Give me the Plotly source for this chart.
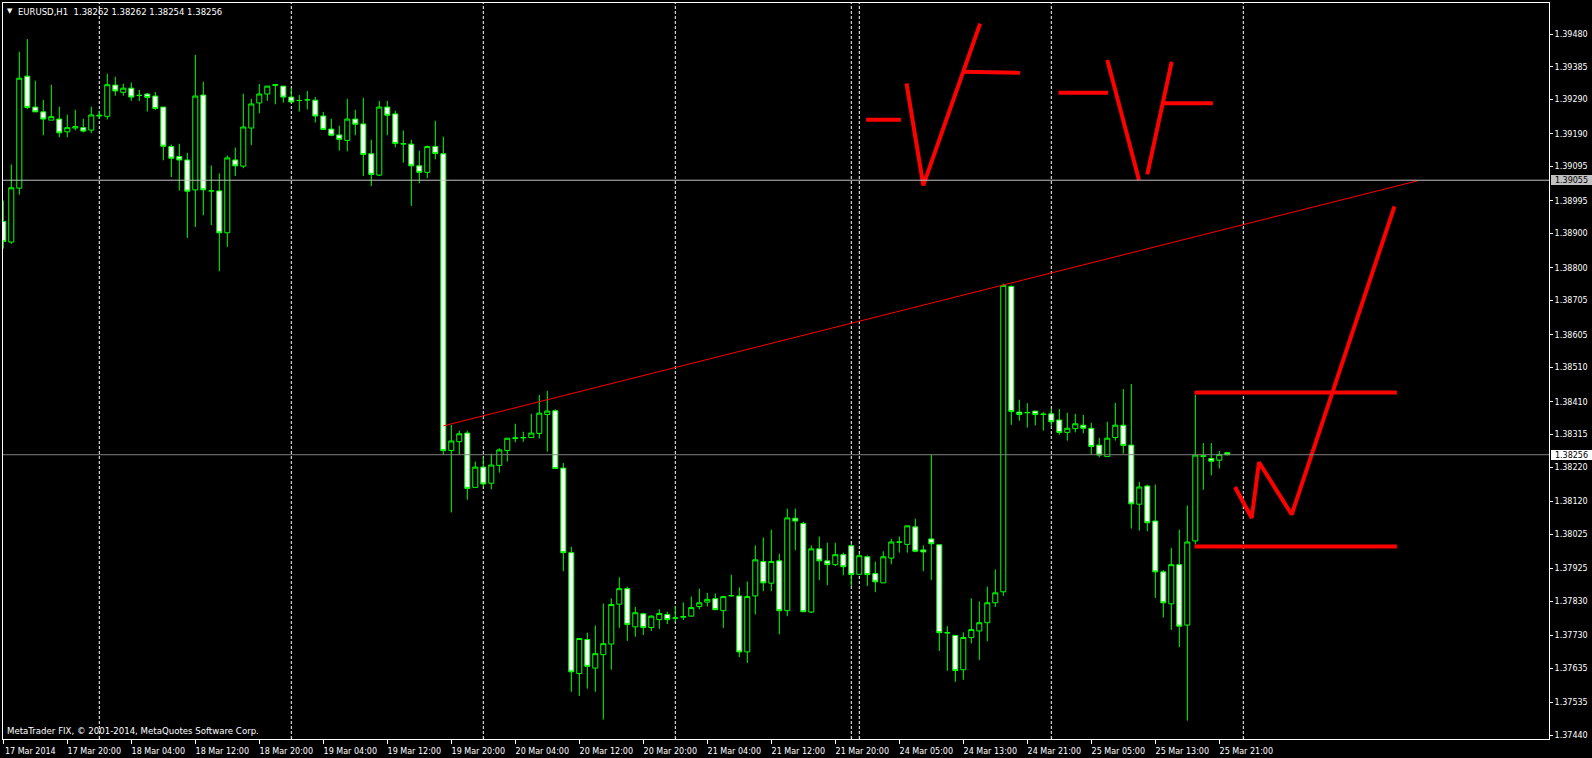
import plotly.graph_objects as go

# ---------------- data ----------------
bar_index = list(range(154))  # H1 bars, 17 Mar 2014 12:00 ... 25 Mar 2014 22:00

open_ = [1.38935, 1.38875, 1.39032, 1.39358, 1.39268, 1.39254, 1.39230, 1.39233, 1.39196, 1.39207,
         1.39208, 1.39201, 1.39242, 1.39241, 1.39332, 1.39311, 1.39323, 1.39302, 1.39306, 1.39300,
         1.39268, 1.39153, 1.39124, 1.39114, 1.39027, 1.39303, 1.39024, 1.39024, 1.38902, 1.39114,
         1.39096, 1.39207, 1.39280, 1.39306, 1.39331, 1.39329, 1.39297, 1.39287, 1.39289, 1.39288,
         1.39242, 1.39204, 1.39187, 1.39171, 1.39233, 1.39219, 1.39132, 1.39070, 1.39268, 1.39248,
         1.39161, 1.39160, 1.39097, 1.39078, 1.39153, 1.39132, 1.38268, 1.38294, 1.38319, 1.38161,
         1.38220, 1.38173, 1.38225, 1.38268, 1.38303, 1.38305, 1.38306, 1.38318, 1.38373, 1.38384,
         1.38217, 1.37971, 1.37619, 1.37718, 1.37635, 1.37674, 1.37705, 1.37821, 1.37866, 1.37755,
         1.37793, 1.37753, 1.37776, 1.37791, 1.37780, 1.37783, 1.37786, 1.37814, 1.37827, 1.37837,
         1.37802, 1.37845, 1.37845, 1.37682, 1.37845, 1.37945, 1.37882, 1.37947, 1.37802, 1.38071,
         1.38056, 1.37798, 1.37982, 1.37947, 1.37936, 1.37965, 1.37991, 1.37908, 1.37959, 1.37910,
         1.37883, 1.37955, 1.38001, 1.37995, 1.38046, 1.37979, 1.38011, 1.37994, 1.37737, 1.37730,
         1.37630, 1.37724, 1.37743, 1.37767, 1.37825, 1.37857, 1.38746, 1.38380, 1.38378, 1.38383,
         1.38373, 1.38375, 1.38357, 1.38321, 1.38332, 1.38342, 1.38333, 1.38284, 1.38251, 1.38306,
         1.38342, 1.38284, 1.38112, 1.38165, 1.38063, 1.37915, 1.37822, 1.37936, 1.37760, 1.38005,
         1.38251, 1.38245, 1.38240, 1.38262]

high = [1.38996, 1.39101, 1.39429, 1.39466, 1.39345, 1.39289, 1.39333, 1.39269, 1.39246, 1.39260,
        1.39234, 1.39269, 1.39257, 1.39365, 1.39356, 1.39336, 1.39339, 1.39318, 1.39309, 1.39312,
        1.39268, 1.39159, 1.39161, 1.39135, 1.39420, 1.39342, 1.39098, 1.39075, 1.39127, 1.39150,
        1.39307, 1.39292, 1.39335, 1.39329, 1.39335, 1.39329, 1.39323, 1.39303, 1.39315, 1.39297,
        1.39254, 1.39234, 1.39214, 1.39292, 1.39260, 1.39295, 1.39173, 1.39286, 1.39286, 1.39257,
        1.39200, 1.39173, 1.39141, 1.39156, 1.39228, 1.39182, 1.38343, 1.38326, 1.38326, 1.38236,
        1.38249, 1.38259, 1.38275, 1.38304, 1.38346, 1.38323, 1.38375, 1.38430, 1.38442, 1.38388,
        1.38232, 1.37988, 1.37721, 1.37738, 1.37759, 1.37823, 1.37838, 1.37899, 1.37872, 1.37813,
        1.37796, 1.37789, 1.37806, 1.37799, 1.37815, 1.37826, 1.37843, 1.37866, 1.37854, 1.37852,
        1.37845, 1.37907, 1.37870, 1.37887, 1.37992, 1.38015, 1.38038, 1.37968, 1.38099, 1.38099,
        1.38061, 1.37992, 1.38018, 1.38000, 1.38000, 1.37971, 1.37997, 1.37968, 1.37963, 1.37945,
        1.37975, 1.38011, 1.38018, 1.38049, 1.38070, 1.37992, 1.38256, 1.37994, 1.37757, 1.37730,
        1.37739, 1.37838, 1.37829, 1.37872, 1.37922, 1.38754, 1.38749, 1.38416, 1.38406, 1.38383,
        1.38380, 1.38390, 1.38389, 1.38378, 1.38375, 1.38372, 1.38349, 1.38305, 1.38352, 1.38407,
        1.38447, 1.38462, 1.38177, 1.38169, 1.38169, 1.37920, 1.37985, 1.38038, 1.38108, 1.38430,
        1.38290, 1.38290, 1.38267, 1.38262]

low = [1.38856, 1.38870, 1.39013, 1.39262, 1.39254, 1.39186, 1.39230, 1.39180, 1.39180, 1.39200,
       1.39194, 1.39192, 1.39234, 1.39232, 1.39301, 1.39301, 1.39286, 1.39286, 1.39255, 1.39260,
       1.39113, 1.39064, 1.39025, 1.38887, 1.38919, 1.38953, 1.38924, 1.38790, 1.38861, 1.39067,
       1.39090, 1.39157, 1.39250, 1.39286, 1.39276, 1.39281, 1.39280, 1.39255, 1.39261, 1.39223,
       1.39202, 1.39183, 1.39141, 1.39139, 1.39186, 1.39067, 1.39038, 1.39067, 1.39186, 1.39151,
       1.39106, 1.38980, 1.39046, 1.39061, 1.39116, 1.38256, 1.38088, 1.38256, 1.38125, 1.38161,
       1.38162, 1.38155, 1.38204, 1.38236, 1.38292, 1.38294, 1.38306, 1.38303, 1.38265, 1.38216,
       1.37917, 1.37566, 1.37554, 1.37575, 1.37566, 1.37485, 1.37630, 1.37752, 1.37714, 1.37726,
       1.37731, 1.37743, 1.37749, 1.37763, 1.37769, 1.37775, 1.37788, 1.37806, 1.37814, 1.37805,
       1.37752, 1.37843, 1.37667, 1.37650, 1.37791, 1.37859, 1.37859, 1.37733, 1.37786, 1.37978,
       1.37799, 1.37795, 1.37891, 1.37876, 1.37932, 1.37905, 1.37874, 1.37907, 1.37874, 1.37856,
       1.37883, 1.37937, 1.37971, 1.37971, 1.37972, 1.37917, 1.37891, 1.37685, 1.37627, 1.37595,
       1.37601, 1.37707, 1.37658, 1.37713, 1.37813, 1.37845, 1.38343, 1.38355, 1.38335, 1.38341,
       1.38326, 1.38340, 1.38314, 1.38297, 1.38321, 1.38318, 1.38256, 1.38248, 1.38251, 1.38297,
       1.38259, 1.38041, 1.38035, 1.38033, 1.37839, 1.37782, 1.37746, 1.37696, 1.37482, 1.37995,
       1.38154, 1.38196, 1.38216, 1.38254]

close = [1.38877, 1.39033, 1.39352, 1.39267, 1.39254, 1.39233, 1.39240, 1.39193, 1.39208, 1.39211,
         1.39198, 1.39245, 1.39244, 1.39333, 1.39315, 1.39323, 1.39297, 1.39302, 1.39296, 1.39264,
         1.39154, 1.39119, 1.39114, 1.39023, 1.39300, 1.39027, 1.39024, 1.38902, 1.39120, 1.39097,
         1.39210, 1.39277, 1.39306, 1.39329, 1.39333, 1.39297, 1.39283, 1.39287, 1.39289, 1.39242,
         1.39203, 1.39186, 1.39174, 1.39233, 1.39218, 1.39130, 1.39072, 1.39268, 1.39244, 1.39162,
         1.39161, 1.39097, 1.39078, 1.39153, 1.39133, 1.38268, 1.38296, 1.38317, 1.38158, 1.38220,
         1.38171, 1.38226, 1.38270, 1.38304, 1.38305, 1.38306, 1.38319, 1.38377, 1.38383, 1.38216,
         1.37971, 1.37624, 1.37721, 1.37640, 1.37677, 1.37706, 1.37820, 1.37866, 1.37762, 1.37796,
         1.37753, 1.37786, 1.37794, 1.37776, 1.37781, 1.37785, 1.37811, 1.37825, 1.37835, 1.37805,
         1.37843, 1.37846, 1.37682, 1.37843, 1.37950, 1.37883, 1.37945, 1.37802, 1.38072, 1.38063,
         1.37799, 1.37982, 1.37947, 1.37936, 1.37965, 1.37930, 1.37907, 1.37962, 1.37907, 1.37886,
         1.37959, 1.38002, 1.38002, 1.38049, 1.37975, 1.37973, 1.37997, 1.37738, 1.37738, 1.37628,
         1.37724, 1.37747, 1.37767, 1.37825, 1.37854, 1.38749, 1.38382, 1.38373, 1.38379, 1.38373,
         1.38374, 1.38352, 1.38321, 1.38333, 1.38346, 1.38333, 1.38280, 1.38255, 1.38304, 1.38342,
         1.38283, 1.38113, 1.38162, 1.38058, 1.37915, 1.37825, 1.37936, 1.37757, 1.38002, 1.38255,
         1.38253, 1.38237, 1.38257, 1.38256]

x_tick_index = [0, 8, 16, 24, 32, 40, 48, 56, 64, 72, 80, 88, 96, 104, 112, 120, 128, 136, 144, 152]
x_tick_labels = ["17 Mar 2014", "17 Mar 20:00", "18 Mar 04:00", "18 Mar 12:00", "18 Mar 20:00",
                 "19 Mar 04:00", "19 Mar 12:00", "19 Mar 20:00", "20 Mar 04:00", "20 Mar 12:00",
                 "20 Mar 20:00", "21 Mar 04:00", "21 Mar 12:00", "21 Mar 20:00", "24 Mar 05:00",
                 "24 Mar 13:00", "24 Mar 21:00", "25 Mar 05:00", "25 Mar 13:00", "25 Mar 21:00"]

price_ticks = [1.39480, 1.39385, 1.39290, 1.39190, 1.39095, 1.38995, 1.38900, 1.38800, 1.38705,
               1.38605, 1.38510, 1.38410, 1.38315, 1.38220, 1.38120, 1.38025, 1.37925, 1.37830,
               1.37730, 1.37635, 1.37535, 1.37440]

day_separators = [12, 36, 60, 84, 106, 107, 131, 155]

level_price = 1.39055
bid_price = 1.38256
title_text = "EURUSD,H1  1.38262 1.38262 1.38254 1.38256"
copyright_text = "MetaTrader FIX, \u00a9 2001-2014, MetaQuotes Software Corp."

# thin trend line
trend_x = [55.0, 176.9]
trend_y = [1.38340, 1.39054]

# hand drawn thick red lines
draw1_x = [107.85, 112.2]
draw1_y = [1.39231, 1.39231]
draw2_x = [112.9, 115.0, 122.1]
draw2_y = [1.39337, 1.39040, 1.39511]
draw3_x = [119.9, 127.1]
draw3_y = [1.39371, 1.39368]
draw4_x = [131.9, 138.1]
draw4_y = [1.39310, 1.39310]
draw5_x = [138.0, 141.96]
draw5_y = [1.39405, 1.39056]
draw6_x = [143.0, 146.05]
draw6_y = [1.39072, 1.39400]
draw7_x = [145.0, 151.2]
draw7_y = [1.39279, 1.39279]
box_top_x = [148.9, 174.2]
box_top_y = [1.38437, 1.38437]
box_bot_x = [148.9, 174.2]
box_bot_y = [1.37989, 1.37989]
zigzag_x = [153.96, 156.05, 156.96, 161.05, 173.9]
zigzag_y = [1.38162, 1.38072, 1.38234, 1.38082, 1.38979]

# ---------------- figure ----------------
FONT = "DejaVu Sans"
GREEN = "#00ff00"
RED = "#ff0000"

fig = go.Figure()

fig.add_trace(go.Candlestick(
    x=bar_index, open=open_, high=high, low=low, close=close,
    increasing=dict(line=dict(color=GREEN, width=1), fillcolor="#000000"),
    decreasing=dict(line=dict(color=GREEN, width=1), fillcolor="#ffffff"),
    whiskerwidth=0, showlegend=False, hoverinfo="skip",
))

fig.add_trace(go.Scatter(x=trend_x, y=trend_y, mode="lines",
                         line=dict(color=RED, width=1), showlegend=False, hoverinfo="skip"))

for dx, dy in [(draw1_x, draw1_y), (draw2_x, draw2_y), (draw3_x, draw3_y), (draw4_x, draw4_y),
               (draw5_x, draw5_y), (draw6_x, draw6_y), (draw7_x, draw7_y),
               (box_top_x, box_top_y), (box_bot_x, box_bot_y), (zigzag_x, zigzag_y)]:
    fig.add_trace(go.Scatter(x=dx, y=dy, mode="lines",
                             line=dict(color=RED, width=4), showlegend=False, hoverinfo="skip"))

shapes = []
for d in day_separators:
    shapes.append(dict(type="line", xref="x", yref="paper", x0=d, x1=d, y0=0, y1=1,
                       line=dict(color="#ffffff", width=1, dash="3px,2px"), layer="below"))
shapes.append(dict(type="line", xref="paper", yref="y", x0=0, x1=1, y0=level_price, y1=level_price,
                   line=dict(color="#c0c0c0", width=1)))
shapes.append(dict(type="line", xref="paper", yref="y", x0=0, x1=1, y0=bid_price, y1=bid_price,
                   line=dict(color="#808080", width=1)))

annotations = [
    dict(xref="paper", yref="paper", x=0, y=1, xanchor="left", yanchor="middle", xshift=4, yshift=-8,
         text="\u25bc", showarrow=False, font=dict(family=FONT, size=7, color="#ffffff"),
         borderpad=0, borderwidth=0),
    dict(xref="paper", yref="paper", x=0, y=1, xanchor="left", yanchor="middle", xshift=15, yshift=-8.5,
         text=title_text, showarrow=False, font=dict(family=FONT, size=8.5, color="#ffffff"),
         borderpad=0, borderwidth=0),
    dict(xref="paper", yref="paper", x=0, y=0, xanchor="left", yanchor="middle", xshift=4, yshift=8,
         text=copyright_text, showarrow=False, font=dict(family=FONT, size=8.6, color="#ffffff"),
         borderpad=0, borderwidth=0),
    dict(xref="paper", yref="y", x=1, y=level_price, xanchor="left", yanchor="middle", xshift=2,
         text=f"{level_price:.5f}", showarrow=False, font=dict(family=FONT, size=8, color="#000000"),
         bgcolor="#c0c0c0", width=41, height=10, align="center", borderpad=0, borderwidth=0),
    dict(xref="paper", yref="y", x=1, y=bid_price, xanchor="left", yanchor="middle", xshift=2,
         text=f"{bid_price:.5f}", showarrow=False, font=dict(family=FONT, size=8, color="#000000"),
         bgcolor="#ffffff", width=41, height=10, align="center", borderpad=0, borderwidth=0),
]

fig.update_layout(
    width=1592, height=758,
    paper_bgcolor="#000000", plot_bgcolor="#000000",
    margin=dict(l=3, r=43, t=2, b=18, pad=0),
    boxgap=0.3, boxgroupgap=0.1,
    showlegend=False,
    shapes=shapes, annotations=annotations,
    xaxis=dict(
        range=[-0.0375, 193.2125], showgrid=False, zeroline=False,
        showline=True, mirror=True, linecolor="#ffffff", linewidth=1,
        ticks="outside", ticklen=4, tickcolor="#ffffff", tickwidth=1,
        tickmode="array", tickvals=x_tick_index, ticktext=x_tick_labels,
        tickfont=dict(family=FONT, size=8, color="#ffffff"),
        ticklabelshift=27, ticklabelstandoff=0,
        rangeslider=dict(visible=False), fixedrange=True,
    ),
    yaxis=dict(
        side="right", range=[1.374285, 1.395709], showgrid=False, zeroline=False,
        showline=True, mirror=True, linecolor="#ffffff", linewidth=1,
        ticks="outside", ticklen=3, tickcolor="#ffffff", tickwidth=1,
        tickmode="array", tickvals=price_ticks, ticktext=[f"{p:.5f}" for p in price_ticks],
        tickfont=dict(family=FONT, size=8, color="#ffffff"), fixedrange=True,
    ),
)

fig.write_html(
    "out.html",
    post_script="document.body.style.margin='0';document.body.style.background='#000';",
    config={"displayModeBar": False},
)
